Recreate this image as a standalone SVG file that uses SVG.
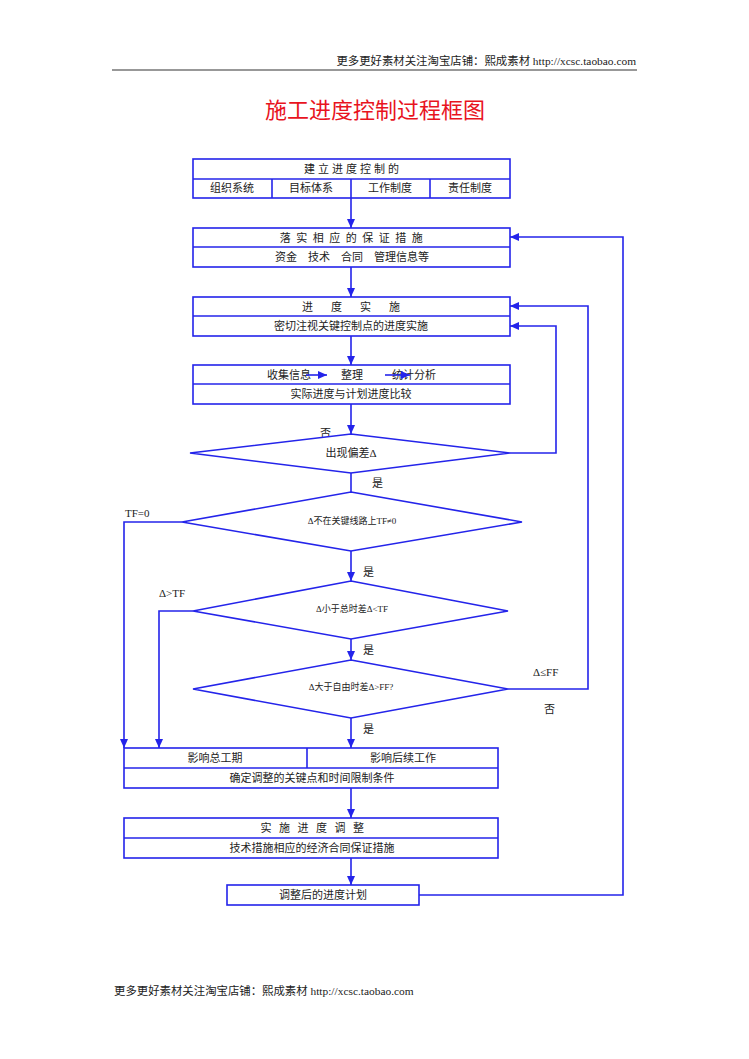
<svg xmlns="http://www.w3.org/2000/svg" width="749" height="1059" viewBox="0 0 749 1059">
<style>
.bx{fill:#fff;stroke:#2424ea;stroke-width:1.6}
.ln{fill:none;stroke:#2424ea;stroke-width:1.6}
.t{font-family:"Liberation Serif","Noto Sans CJK SC",serif;font-size:11px;fill:#222;text-anchor:middle}
.s{font-family:"Liberation Serif","Noto Sans CJK SC",serif;font-size:9px;fill:#222;text-anchor:middle}
.l{font-family:"Liberation Serif","Noto Sans CJK SC",serif;font-size:11px;fill:#222}
.hd{font-family:"Liberation Serif","Noto Sans CJK SC",serif;font-size:11.4px;fill:#222}
</style>
<defs>
<marker id="ah" markerUnits="userSpaceOnUse" markerWidth="10" markerHeight="10" viewBox="0 0 10 10" refX="9" refY="5" orient="auto">
<path d="M0,1 L9,5 L0,9 Z" fill="#2424ea"/>
</marker>
</defs>
<rect width="749" height="1059" fill="#fff"/>
<g id="header">
<text class="hd" x="636" y="65" text-anchor="end">更多更好素材关注淘宝店铺：熙成素材 http://xcsc.taobao.com</text>
<line x1="112" y1="70" x2="637" y2="70" stroke="#333" stroke-width="1.2"/>
</g>
<g id="title">
<text x="375" y="118" font-family="'Noto Sans CJK SC',sans-serif" font-size="22" fill="#e8141e" text-anchor="middle">施工进度控制过程框图</text>
</g>
<g id="n1">
<rect class="bx" x="193" y="159" width="317" height="39"/>
<line class="ln" x1="193" y1="179" x2="510" y2="179"/>
<line class="ln" x1="272" y1="179" x2="272" y2="198"/>
<line class="ln" x1="351" y1="179" x2="351" y2="198"/>
<line class="ln" x1="430" y1="179" x2="430" y2="198"/>
<text class="t" x="353" y="173" letter-spacing="3">建立进度控制的</text>
<text class="t" x="232" y="192">组织系统</text>
<text class="t" x="311" y="192">目标体系</text>
<text class="t" x="390" y="192">工作制度</text>
<text class="t" x="470" y="192">责任制度</text>
</g>
<g id="n2">
<rect class="bx" x="193" y="228" width="317" height="39"/>
<line class="ln" x1="193" y1="247" x2="510" y2="247"/>
<text class="t" x="354" y="242" letter-spacing="5.5">落实相应的保证措施</text>
<text class="t" x="352" y="261">资金　技术　合同　管理信息等</text>
</g>
<g id="n3">
<rect class="bx" x="193" y="297" width="317" height="39"/>
<line class="ln" x1="193" y1="316" x2="510" y2="316"/>
<text class="t" x="360" y="311" letter-spacing="18">进度实施</text>
<text class="t" x="351" y="330">密切注视关键控制点的进度实施</text>
</g>
<g id="n4">
<rect class="bx" x="193" y="365" width="317" height="39"/>
<line class="ln" x1="193" y1="384" x2="510" y2="384"/>
<text class="t" x="289" y="379">收集信息</text>
<text class="t" x="352" y="379">整理</text>
<text class="t" x="414" y="379">统计分析</text>
<line class="ln" x1="306" y1="375" x2="327" y2="375" marker-end="url(#ah)"/>
<line class="ln" x1="385" y1="375" x2="410" y2="375" marker-end="url(#ah)"/>
<text class="t" x="351" y="398">实际进度与计划进度比较</text>
</g>
<g id="d1">
<text class="l" x="320" y="437">否</text>
<polygon class="bx" points="351,434 510,453 351,473 190,453"/>
<text class="t" x="351" y="457">出现偏差Δ</text>
</g>
<g id="d2">
<polygon class="bx" points="351,492 522,522 351,551 182,522"/>
<text class="s" x="352" y="524">Δ不在关键线路上TF≠0</text>
</g>
<g id="d3">
<polygon class="bx" points="351,581 508,611 351,639 193,611"/>
<text class="s" x="352" y="612">Δ小于总时差Δ&lt;TF</text>
</g>
<g id="d4">
<polygon class="bx" points="351,660 508,689 351,718 193,689"/>
<text class="s" x="351" y="690">Δ大于自由时差Δ&gt;FF?</text>
</g>
<g id="n5">
<rect class="bx" x="124" y="748" width="374" height="40"/>
<line class="ln" x1="124" y1="768" x2="498" y2="768"/>
<line class="ln" x1="307" y1="748" x2="307" y2="768"/>
<text class="t" x="215" y="762">影响总工期</text>
<text class="t" x="403" y="762">影响后续工作</text>
<text class="t" x="312" y="782">确定调整的关键点和时间限制条件</text>
</g>
<g id="n6">
<rect class="bx" x="124" y="818" width="374" height="40"/>
<line class="ln" x1="124" y1="838" x2="498" y2="838"/>
<text class="t" x="316" y="832" letter-spacing="7.5">实施进度调整</text>
<text class="t" x="312" y="852">技术措施相应的经济合同保证措施</text>
</g>
<g id="n7">
<rect class="bx" x="227" y="885" width="192" height="20"/>
<text class="t" x="323" y="899">调整后的进度计划</text>
</g>
<g id="labels">
<text class="l" x="372" y="487">是</text>
<text class="l" x="125" y="517">TF=0</text>
<text class="l" x="363" y="576">是</text>
<text class="l" x="159" y="597">Δ&gt;TF</text>
<text class="l" x="363" y="654">是</text>
<text class="l" x="533" y="676">Δ≤FF</text>
<text class="l" x="544" y="713">否</text>
<text class="l" x="363" y="733">是</text>
</g>
<g id="connectors">
<line class="ln" x1="351" y1="198" x2="351" y2="228" marker-end="url(#ah)"/>
<line class="ln" x1="351" y1="267" x2="351" y2="297" marker-end="url(#ah)"/>
<line class="ln" x1="351" y1="336" x2="351" y2="365" marker-end="url(#ah)"/>
<line class="ln" x1="351" y1="404" x2="351" y2="434" marker-end="url(#ah)"/>
<polyline class="ln" points="510,453 556,453 556,326 510,326" marker-end="url(#ah)"/>
<line class="ln" x1="351" y1="473" x2="351" y2="492"/>
<polyline class="ln" points="182,522 124,522 124,748" marker-end="url(#ah)"/>
<line class="ln" x1="351" y1="551" x2="351" y2="581" marker-end="url(#ah)"/>
<polyline class="ln" points="193,611 159,611 159,748" marker-end="url(#ah)"/>
<line class="ln" x1="351" y1="639" x2="351" y2="660" marker-end="url(#ah)"/>
<polyline class="ln" points="508,689 588,689 588,306 510,306" marker-end="url(#ah)"/>
<line class="ln" x1="351" y1="718" x2="351" y2="748" marker-end="url(#ah)"/>
<line class="ln" x1="351" y1="788" x2="351" y2="818" marker-end="url(#ah)"/>
<line class="ln" x1="351" y1="858" x2="351" y2="885" marker-end="url(#ah)"/>
<polyline class="ln" points="419,895 623,895 623,237 510,237" marker-end="url(#ah)"/>
</g>
<g id="footer">
<text class="hd" x="114" y="995">更多更好素材关注淘宝店铺：熙成素材 http://xcsc.taobao.com</text>
</g>
</svg>
